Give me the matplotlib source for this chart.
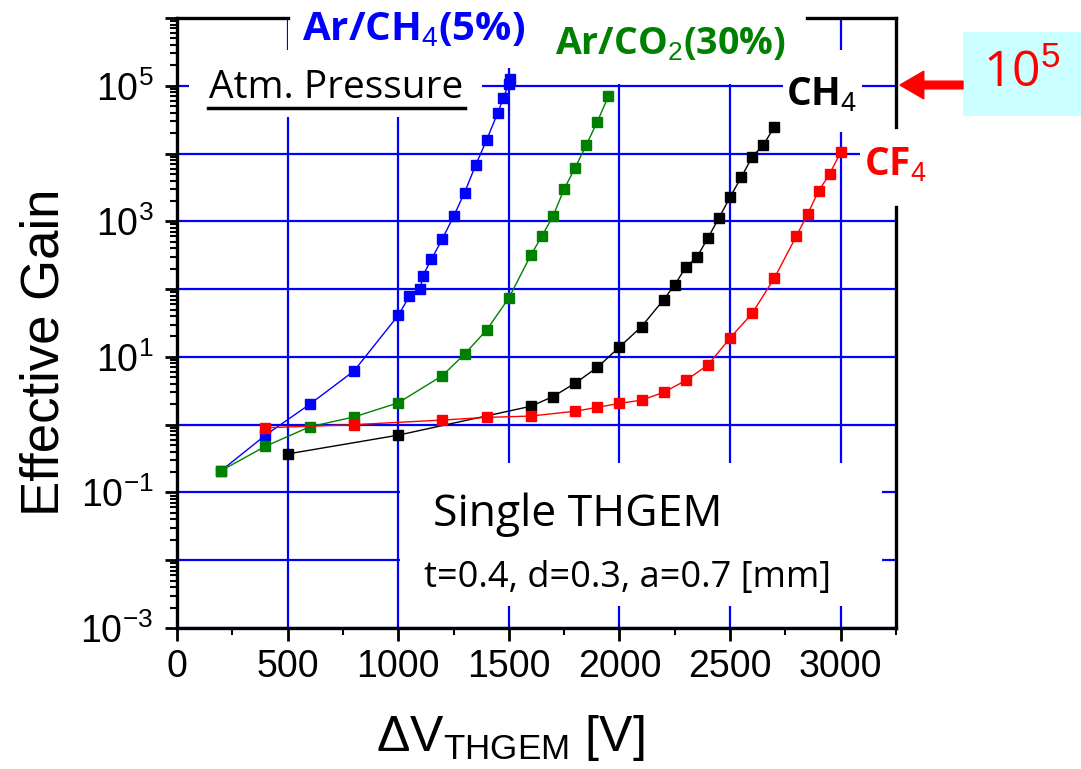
import matplotlib
matplotlib.use("Agg")
import matplotlib.pyplot as plt
from matplotlib.patches import Rectangle, FancyArrow
from matplotlib.ticker import FixedLocator, FuncFormatter
import numpy as np

# Effective gain vs THGEM voltage, single THGEM at atmospheric pressure
v_arch4 = [200, 400, 600, 800, 1000, 1050, 1100, 1110, 1150, 1200, 1250, 1300,
           1350, 1400, 1450, 1475, 1500, 1505]
g_arch4 = [0.21, 0.70, 2.0, 6.2, 41, 78, 100, 155, 275, 555, 1180, 2660,
           6750, 1.6e4, 4.0e4, 6.6e4, 1.07e5, 1.27e5]

v_arco2 = [200, 400, 600, 800, 1000, 1200, 1300, 1400, 1500, 1600, 1650, 1700,
           1750, 1800, 1850, 1900, 1950]
g_arco2 = [0.21, 0.48, 0.93, 1.3, 2.1, 5.3, 11, 25, 74, 320, 610, 1200,
           3000, 6200, 1.34e4, 2.96e4, 7.0e4]

v_ch4 = [500, 1000, 1600, 1700, 1800, 1900, 2000, 2100, 2200, 2250, 2300, 2350,
         2400, 2450, 2500, 2550, 2600, 2650, 2700]
g_ch4 = [0.37, 0.70, 1.87, 2.6, 4.1, 7.0, 14, 28, 70, 116, 210, 297,
         570, 1130, 2270, 4450, 8900, 1.34e4, 2.46e4]

v_cf4 = [400, 800, 1200, 1400, 1600, 1800, 1900, 2000, 2100, 2200, 2300, 2400,
         2500, 2600, 2700, 2800, 2850, 2900, 2950, 3000]
g_cf4 = [0.90, 1.0, 1.17, 1.28, 1.34, 1.58, 1.8, 2.06, 2.3, 3.0, 4.5, 7.6,
         19, 44, 145, 610, 1270, 2800, 5000, 1.05e4]

series = [
    (v_arch4, g_arch4, "#0000ff"),
    (v_arco2, g_arco2, "#008000"),
    (v_ch4, g_ch4, "#000000"),
    (v_cf4, g_cf4, "#ff0000"),
]

W, H = 1081, 769

plt.rcParams["font.family"] = ["Liberation Sans Narrow", "Liberation Sans", "DejaVu Sans"]
plt.rcParams["mathtext.fontset"] = "custom"
plt.rcParams["mathtext.rm"] = "Liberation Sans"

fig = plt.figure(figsize=(W / 100, H / 100), dpi=100)


def fx(x):
    return x / W


def fy(y):
    return 1 - y / H


ax = fig.add_axes([fx(177), fy(628), (896 - 177) / W, (628 - 18) / H])
ax.set_yscale("log")
ax.set_xlim(0, 3250)
ax.set_ylim(1e-3, 1e6)

for v, g, c in series:
    ax.plot(v, g, color=c, lw=1.0, marker="s", ms=7.5, mec=c, mfc=c, zorder=3)

# grid
ax.set_axisbelow(True)
ax.xaxis.set_major_locator(FixedLocator(np.arange(0, 3001, 500)))
ax.xaxis.set_minor_locator(FixedLocator(np.arange(250, 3251, 500)))
decades = [10.0 ** k for k in range(-3, 7)]
ax.yaxis.set_major_locator(FixedLocator(decades))
minors = [m * 10.0 ** k for k in range(-3, 6) for m in range(2, 10)]
ax.yaxis.set_minor_locator(FixedLocator(minors))
ax.yaxis.set_major_formatter(FuncFormatter(
    lambda y, p: r"$\mathregular{10^{%d}}$" % round(np.log10(y))
    if round(np.log10(y)) % 2 else ""))
ax.grid(True, which="major", color="#0000ff", lw=1.6)

ax.tick_params(axis="both", which="major", direction="out", length=9, width=2,
               labelsize=27, pad=6)
ax.tick_params(axis="both", which="minor", direction="out", length=5, width=1.5)
ax.tick_params(axis="y", which="major", pad=8)

for s in ["left", "bottom"]:
    ax.spines[s].set_linewidth(2.4)
for s in ["top", "right"]:
    ax.spines[s].set_visible(False)

# frame pieces on top and right, interrupted by labels
frame = dict(color="black", lw=2.4, transform=ax.transAxes, clip_on=False, zorder=4)
ax.plot([0, (288 - 177) / 719], [1, 1], **frame)
ax.plot([(807 - 177) / 719, 1], [1, 1], **frame)
ax.plot([1, 1], [1, (628 - 127) / 610], **frame)
ax.plot([1, 1], [(628 - 207) / 610, 0], **frame)

# white areas behind labels inside the plot
for x0, y0, x1, y1 in [(189, 50, 482, 117), (288, 10, 527, 68), (527, 10, 807, 84),
                       (783, 50, 862, 132), (860, 127, 905, 207), (400, 463, 882, 606)]:
    ax.add_patch(Rectangle((fx(x0), fy(y1)), fx(x1) - fx(x0), fy(y0) - fy(y1),
                           transform=fig.transFigure, facecolor="white",
                           edgecolor="none", zorder=2, clip_on=False))

lab_font = ["Open Sans", "DejaVu Sans"]
fig.text(fx(414), fy(30), r"Ar/CH$_4$(5%)", color="#0000ff", fontsize=29,
         fontweight="bold", family=lab_font, ha="center", va="center")
fig.text(fx(670), fy(45), r"Ar/CO$_2$(30%)", color="#008000", fontsize=27,
         fontweight="bold", family=lab_font, ha="center", va="center")
fig.text(fx(336), fy(88), "Atm. Pressure", color="black", fontsize=28,
         family=lab_font, ha="center", va="center")
fig.add_artist(plt.Line2D([fx(208), fx(465)], [fy(108), fy(108)], color="black", lw=2.5))
fig.text(fx(822), fy(95), r"CH$_4$", color="black", fontsize=28,
         fontweight="bold", family=lab_font, ha="center", va="center")
fig.text(fx(895), fy(165), r"CF$_4$", color="#ff0000", fontsize=28,
         fontweight="bold", family=lab_font, ha="center", va="center")
fig.text(fx(578), fy(515), "Single THGEM", color="black", fontsize=32,
         family=lab_font, ha="center", va="center")
fig.text(fx(628), fy(578), "t=0.4, d=0.3, a=0.7 [mm]", color="black", fontsize=26,
         family=lab_font, ha="center", va="center")

# highlighted gain level
fig.add_artist(Rectangle((fx(963), fy(116)), fx(1081) - fx(963), fy(32) - fy(116),
                         transform=fig.transFigure, facecolor="#ccffff", edgecolor="none"))
fig.text(fx(1022), fy(74), r"10$^5$", color="#ff0000", fontsize=36,
         family=lab_font, ha="center", va="center")
fig.add_artist(FancyArrow(fx(963), fy(85), fx(900) - fx(963), 0, width=0.010,
                          head_width=0.036, head_length=0.022,
                          length_includes_head=True, transform=fig.transFigure,
                          color="#ff0000"))

fig.text(fx(45), fy(352), "Effective Gain", rotation=90, fontsize=38,
         family=["Liberation Sans", "DejaVu Sans"], ha="center", va="center")
fig.text(fx(510), fy(738), r"$\mathregular{\Delta V_{THGEM}}$ [V]", fontsize=36,
         family=["Liberation Sans", "DejaVu Sans"], ha="center", va="center")

fig.savefig("out.png", dpi=100)
